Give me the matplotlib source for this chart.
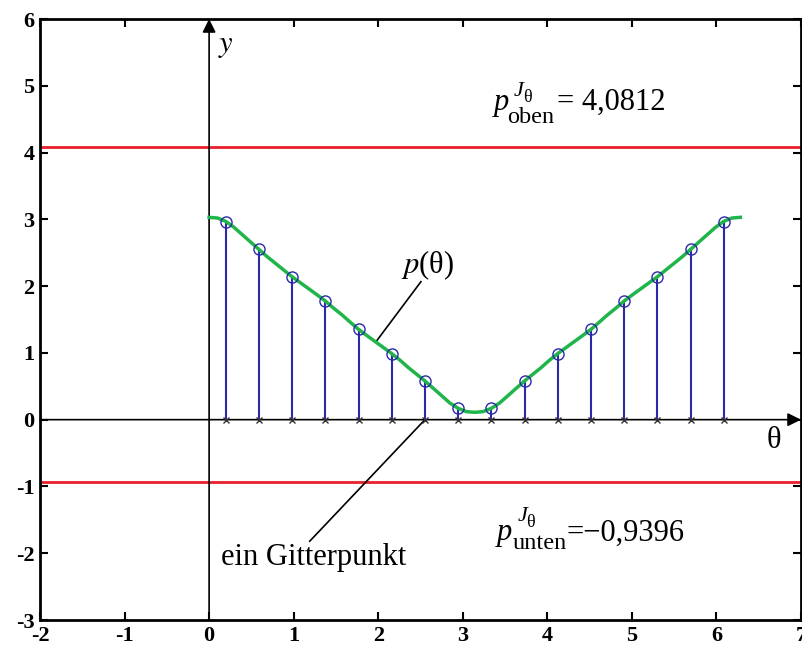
import numpy as np
import matplotlib
matplotlib.use('Agg')
import matplotlib.pyplot as plt

plt.rcParams['font.family'] = ['Liberation Serif', 'DejaVu Serif']
plt.rcParams['mathtext.fontset'] = 'stix'
plt.rcParams['axes.unicode_minus'] = False

# Gitterpunkte theta_k = (2k+1)*pi/16 und Werte p(theta_k)
k_grid = np.arange(16)
p_grid = [2.966, 2.55, 2.14, 1.777, 1.352, 0.99, 0.58, 0.17,
          0.17, 0.58, 0.99, 1.352, 1.777, 2.14, 2.55, 2.966]

p_curve = [3.03, 3.02, 2.97, 2.88, 2.77, 2.66, 2.55, 2.44,
           2.34, 2.24, 2.14, 2.05, 1.96, 1.87, 1.777, 1.67,
           1.57, 1.46, 1.352, 1.26, 1.17, 1.08, 0.99, 0.89,
           0.78, 0.68, 0.58, 0.47, 0.36, 0.25, 0.17, 0.12,
           0.11]
p_curve = p_curve + p_curve[-2::-1]

p_oben = 4.0812
p_unten = -0.9396

theta_grid = (2 * k_grid + 1) * np.pi / 16
theta_curve = np.arange(len(p_curve)) * np.pi / 32

fig = plt.figure(figsize=(8.03, 6.48), dpi=100)
ax = fig.add_axes([40 / 803, 1 - 620 / 648, 761 / 803, 601 / 648])

blue = '#2a2aa8'
green = '#1fb54a'
red = '#e8202c'


def grenz_label(x, y, index, wert, dy_sup, dy_sub, dx_idx, dx_wert):
    """p^{J_theta}_{index} = wert, Stück für Stück gesetzt (Offsets in Pixel)."""
    def put(s, dx, dy, size, style='normal'):
        ax.annotate(s, xy=(x, y), xytext=(dx, dy), textcoords='offset pixels',
                    fontsize=size, style=style, ha='left', va='baseline')
    put('p', 0, 0, 22, 'italic')
    put('J', 20, dy_sup, 16, 'italic')
    put('θ', 29, dy_sup - 6, 13)
    put(index, dx_idx, dy_sub, 17.5)
    put(wert, dx_wert, 0, 22)


# Grenzlinien
ax.axhline(p_oben, color=red, lw=2.0, zorder=2)
ax.axhline(p_unten, color=red, lw=2.0, zorder=2)

# Koordinatenachsen mit Pfeilen
ax.annotate('', xy=(7.0, 0), xytext=(-2.0, 0),
            arrowprops=dict(arrowstyle='-|>', color='k', lw=1.2,
                            mutation_scale=20, shrinkA=0, shrinkB=0))
ax.annotate('', xy=(0, 6.0), xytext=(0, -3.0),
            arrowprops=dict(arrowstyle='-|>', color='k', lw=1.2,
                            mutation_scale=20, shrinkA=0, shrinkB=0))

# Stems
ax.vlines(theta_grid, 0, p_grid, color=blue, lw=1.5, zorder=3)
ax.plot(theta_grid, p_grid, 'o', mfc='none', mec=blue, ms=8, mew=1.0, zorder=5)
ax.plot(theta_grid, np.zeros(16), 'x', color='#333333', ms=5, mew=1.0, zorder=5)

# Kurve
ax.plot(theta_curve, p_curve, color=green, lw=2.5, zorder=4)

# Beschriftungen
ax.text(0.2, 5.6, '$y$', fontsize=22, ha='center', va='center')
ax.text(6.68, -0.31, 'θ', fontsize=22, ha='center', va='center')
ax.text(2.58, 2.32, '$p$(θ)', fontsize=22, ha='center', va='center')
ax.plot([2.505, 1.973], [2.066, 1.166], color='k', lw=1.2)

ax.plot([theta_grid[6], 1.19], [0, -1.82], color='k', lw=1.2)
ax.text(1.24, -2.06, 'ein Gitterpunkt', fontsize=22, ha='center', va='center')

grenz_label(3.371, 4.64, 'oben', '= 4,0812', 14, -13, 13, 63)
grenz_label(3.407, -1.807, 'unten', '=−0,9396', 19, -9, 15, 69)

ax.set_xlim(-2, 7)
ax.set_ylim(-3, 6)
ax.set_xticks(range(-2, 8))
ax.set_yticks(range(-3, 7))
ax.tick_params(direction='in', top=True, right=True, length=6, width=1.5,
               labelsize=16, pad=4)
for lab in ax.get_xticklabels() + ax.get_yticklabels():
    lab.set_fontweight('bold')
for sp in ax.spines.values():
    sp.set_linewidth(2.0)

fig.savefig('out.png', dpi=100)
